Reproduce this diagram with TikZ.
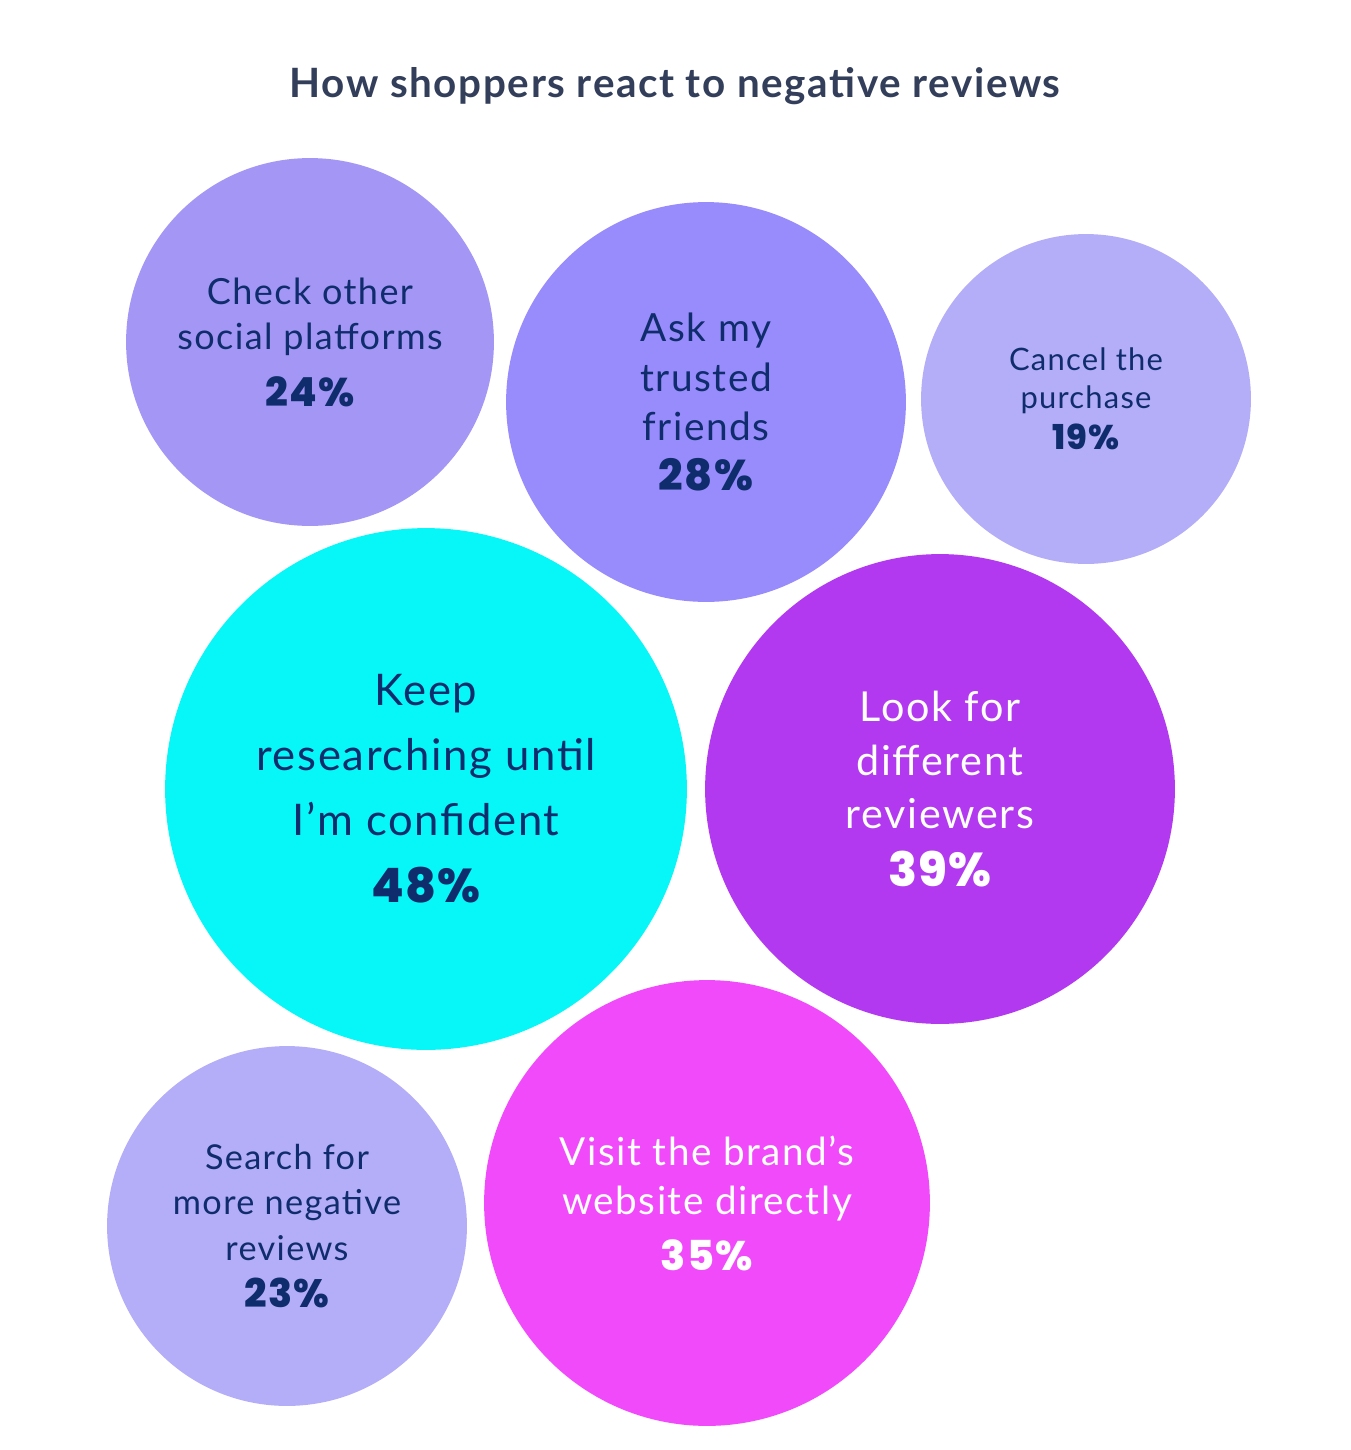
\documentclass[tikz,border=0pt]{standalone}
\usepackage{fontspec}
\setmainfont{Lato}[LetterSpace=4]
\newfontfamily\pctfont{Poppins ExtraBold}[LetterSpace=3]
\definecolor{ink}{HTML}{0F2C6C}
\definecolor{titlegray}{HTML}{333F5A}
\definecolor{lavA}{HTML}{A396F5}
\definecolor{lavB}{HTML}{988BFB}
\definecolor{lavC}{HTML}{B4ADF7}
\definecolor{aqua}{HTML}{07F7F8}
\definecolor{violet}{HTML}{B239EF}
\definecolor{pink}{HTML}{F04AFB}
\begin{document}
\begin{tikzpicture}[x=0.02cm,y=-0.02cm,
    bubble/.style={circle, inner sep=0pt, align=center},
    title/.style={font=\bfseries\fontsize{23}{26}\selectfont, text=titlegray, anchor=base}]
    \useasboundingbox (0,0) rectangle (1350,1450);

    \node[title] (head) at (675,97) {How shoppers react to negative reviews};

    % name/x/y/radius/fill/ink/font size/line skip/percent size/extra skip/label/percent
    \foreach \n/\x/\y/\r/\c/\t/\fs/\ls/\ps/\ex/\lab/\p in {
        social/310/342/184/lavA/ink/20.5/26/22.8/6/{Check other\\social platforms}/24,
        friends/706/402/200/lavB/ink/22.1/28.4/24.5/0/{Ask my\\trusted\\friends}/28,
        cancel/1086/399/165/lavC/ink/17.6/21.5/19.5/2/{Cancel the\\purchase}/19,
        research/426/789/261/aqua/ink/24.8/37/27/1/{Keep\\researching until\\I’m confident}/48,
        reviewers/940/789/235/violet/white/23.5/30.5/27/2/{Look for\\different\\reviewers}/39,
        negative/287/1226/180/lavC/ink/19.5/26/22.5/1/{Search for\\more negative\\reviews}/23,
        website/707/1203/223/pink/white/22/28.4/23.5/3/{Visit the brand’s\\website directly}/35}
    {
    \node[bubble, fill=\c, text=\t, minimum size=\r*0.04cm,
          font=\fontsize{\fs}{\ls}\selectfont] (\n) at (\x,\y)
          {\lab\\[\ex pt]{\pctfont\fontsize{\ps}{\ps}\selectfont\p\%}};
    }
\end{tikzpicture}
\end{document}
